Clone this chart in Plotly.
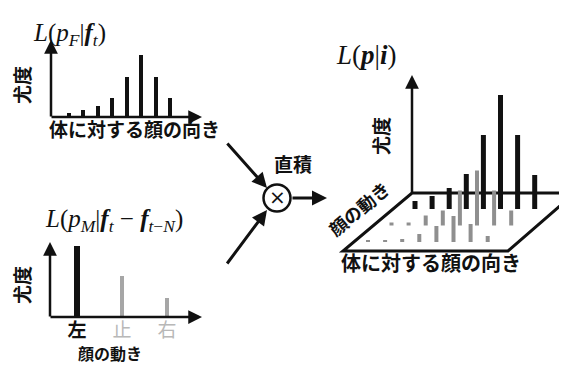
import math
import plotly.graph_objects as go

# ---------------- data ----------------
face_dir_idx = [0, 1, 2, 3, 4, 5, 6, 7]
face_dir_lik = [4, 7, 11, 19, 40, 62, 40, 19]          # L(pF | ft)

motion_labels = ["左", "止", "右"]
motion_lik = [71, 41, 19]                                # L(pM | ft - ft-N)

joint_left = [8, 13, 21, 35, 74, 114, 74, 34]            # L(p | i), motion = 左
joint_stop = [3, 3, 10, 15, 35, 55, 35, 15]              # motion = 止
joint_right = [2, 2, 3, 8, 16, 26, 18, 6]                # motion = 右

# ---------------- styling / geometry ----------------
W, H = 567, 369
JP = "Noto Sans CJK JP"
SERIF = "Liberation Serif"
BLACK = "#111111"
GRAY = "#8f8f8f"
LIGHT = "#b8b8b8"
CJK_SHIFT = 8   # compensates the tall line box of the CJK font


def px(x):
    return x / W


def py(y):
    return 1 - y / H


fig = go.Figure()

# ---- chart A: face direction likelihood ----
fig.add_trace(go.Bar(x=face_dir_idx, y=face_dir_lik, width=0.28,
                     marker=dict(color=BLACK, line=dict(width=0)),
                     xaxis="x", yaxis="y", showlegend=False))

# ---- chart B: motion likelihood ----
fig.add_trace(go.Bar(x=[0, 1, 2], y=motion_lik, width=[0.12, 0.09, 0.09],
                     marker=dict(color=[BLACK, "#a6a6a6", "#a6a6a6"], line=dict(width=0)),
                     xaxis="x2", yaxis="y2", showlegend=False))

# ---- chart C: pseudo-3D joint likelihood (oblique projection) ----
X0, DX, RX, Y0, RY = 407, 17.1, -23.5, 201, 16.5


def bar_segments(values, k):
    xs, ys = [], []
    for i, v in enumerate(values):
        x = X0 + DX * i + RX * k
        yb = Y0 + RY * k
        xs += [x, x, None]
        ys += [yb, yb - v, None]
    return xs, ys


for k, (vals, col, lw) in enumerate([(joint_left, BLACK, 5),
                                     (joint_stop, GRAY, 4),
                                     (joint_right, GRAY, 4)]):
    xs, ys = bar_segments(vals, k)
    fig.add_trace(go.Scatter(x=xs, y=ys, mode="lines",
                             line=dict(color=col, width=lw),
                             xaxis="x3", yaxis="y3", showlegend=False,
                             hoverinfo="skip"))

hidden = dict(showgrid=False, zeroline=False, showticklabels=False,
              showline=False, ticks="", fixedrange=True)

annotations = []


def arrow(x0, y0, x1, y1, w=2.5, size=1.1):
    annotations.append(dict(x=x1, y=y1, ax=x0, ay=y0, xref="x3", yref="y3",
                            axref="x3", ayref="y3", text="", showarrow=True,
                            arrowhead=2, arrowsize=size, arrowwidth=w,
                            arrowcolor=BLACK, standoff=0, startstandoff=0))


def label(x, y, text, size, family=JP, angle=0, color=BLACK):
    annotations.append(dict(x=x, y=y, xref="x3", yref="y3", text=text,
                            showarrow=False, textangle=angle,
                            font=dict(family=family, size=size, color=color),
                            xanchor="center", yanchor="middle"))


def jlabel(x, y, text, size, angle=0):
    if angle == 0:
        dx, dy = 0, -CJK_SHIFT
    else:
        a = math.radians(-angle)
        s = 1.5 * CJK_SHIFT
        dx, dy = -s * math.sin(a), -s * math.cos(a) * 0.6
    label(x + dx, y + dy, "<b>%s</b>" % text, size, JP, angle)


# axes of chart A
arrow(43, 110, 43, 32)
arrow(42, 109, 194, 109)
# axes of chart B
arrow(42, 310, 42, 234)
arrow(41, 309, 194, 309)
# 3D vertical axis
arrow(404, 186, 404, 67)
# flow arrows
arrow(218, 134, 259, 180, w=3, size=1.0)
arrow(218, 257, 259, 202, w=3, size=1.0)
arrow(283, 190, 319, 190, w=3, size=1.0)

# titles (math)
label(61, 26, "<i>L</i>(<i>p</i><sub><i>F</i></sub>|<b><i>f</i></b><sub><i>t</i></sub>)", 25, SERIF)
label(106, 212, "<i>L</i>(<i>p</i><sub><i>M</i></sub>|<b><i>f</i></b><sub><i>t</i></sub> − <b><i>f</i></b><sub><i>t</i>−<i>N</i></sub>)", 25, SERIF)
label(358, 47, "<i>L</i>(<b><i>p</i></b>|<b><i>i</i></b>)", 27, SERIF)

# Japanese labels
jlabel(25, 77, "尤度", 19, angle=-90)
jlabel(25, 277, "尤度", 19, angle=-90)
jlabel(384, 128, "尤度", 19, angle=-90)
jlabel(126, 128, "体に対する顔の向き", 19)
jlabel(102, 353, "顔の動き", 16)
jlabel(423, 262, "体に対する顔の向き", 20)
jlabel(359, 206, "顔の動き", 18, angle=-40)
jlabel(285, 163, "直積", 19)
label(269, 189, "×", 20, family="DejaVu Sans")

shapes = [
    dict(type="circle", xref="x3", yref="y3", x0=255.5, x1=282.5, y0=176.5, y1=203.5,
         line=dict(color=BLACK, width=2.5), fillcolor="white", layer="below"),
    dict(type="path", xref="x3", yref="y3",
         path="M 404,185 L 567,185 L 500,243 L 335,243 Z",
         line=dict(color=BLACK, width=3), layer="below"),
]

fig.update_layout(
    width=W, height=H, margin=dict(l=0, r=0, t=0, b=0),
    paper_bgcolor="white", plot_bgcolor="rgba(0,0,0,0)",
    xaxis=dict(domain=[px(43), px(193)], range=[-1.25, 9.15], anchor="y", **hidden),
    yaxis=dict(domain=[py(109), py(33)], range=[0, 76], anchor="x", **hidden),
    xaxis2=dict(domain=[px(42), px(193)], range=[-0.6, 2.756], anchor="y2",
                showgrid=False, zeroline=False, showline=False, ticks="",
                tickvals=[0, 1, 2],
                ticktext=["<b>%s</b>" % motion_labels[0],
                          "<span style='color:%s'>%s</span>" % (LIGHT, motion_labels[1]),
                          "<span style='color:%s'>%s</span>" % (LIGHT, motion_labels[2])],
                tickfont=dict(family=JP, size=19, color=BLACK),
                ticklabelstandoff=0, fixedrange=True),
    yaxis2=dict(domain=[py(309), py(235)], range=[0, 74], anchor="x2", **hidden),
    xaxis3=dict(domain=[0, 1], range=[0, W], anchor="y3", **hidden),
    yaxis3=dict(domain=[0, 1], range=[H, 0], anchor="x3", **hidden),
    annotations=annotations, shapes=shapes,
    bargap=0,
)

fig.write_html("out.html")
